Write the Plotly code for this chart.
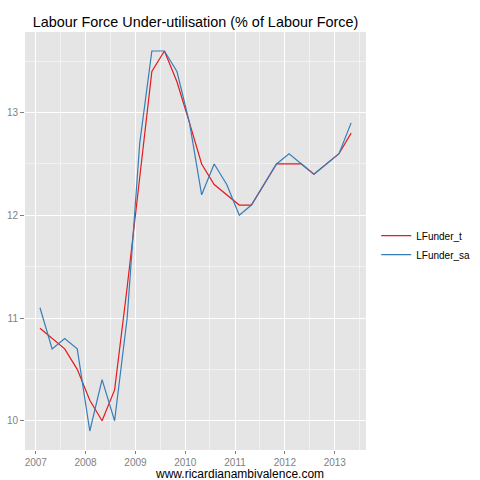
import plotly.graph_objects as go

quarters = [
    "2007-02-01", "2007-05-01", "2007-08-01", "2007-11-01",
    "2008-02-01", "2008-05-01", "2008-08-01", "2008-11-01",
    "2009-02-01", "2009-05-01", "2009-08-01", "2009-11-01",
    "2010-02-01", "2010-05-01", "2010-08-01", "2010-11-01",
    "2011-02-01", "2011-05-01", "2011-08-01", "2011-11-01",
    "2012-02-01", "2012-05-01", "2012-08-01", "2012-11-01",
    "2013-02-01", "2013-05-01",
]
lfunder_t = [
    10.9, 10.8, 10.7, 10.5, 10.2, 10.0, 10.3, 11.3, 12.4, 13.4,
    13.6, 13.3, 12.9, 12.5, 12.3, 12.2, 12.1, 12.1, 12.3, 12.5,
    12.5, 12.5, 12.4, 12.5, 12.6, 12.8,
]
lfunder_sa = [
    11.1, 10.7, 10.8, 10.7, 9.9, 10.4, 10.0, 11.0, 12.7, 13.6,
    13.6, 13.4, 12.9, 12.2, 12.5, 12.3, 12.0, 12.1, 12.3, 12.5,
    12.6, 12.5, 12.4, 12.5, 12.6, 12.9,
]
year_ticks = ["2007", "2008", "2009", "2010", "2011", "2012", "2013"]

FONT = "Liberation Sans, Arial, Helvetica, sans-serif"

fig = go.Figure()
fig.add_trace(go.Scatter(x=quarters, y=lfunder_t, mode="lines", name="LFunder_t",
                         line=dict(color="#E41A1C", width=1.2)))
fig.add_trace(go.Scatter(x=quarters, y=lfunder_sa, mode="lines", name="LFunder_sa",
                         line=dict(color="#377EB8", width=1.2)))

fig.update_layout(
    width=480,
    height=480,
    paper_bgcolor="white",
    plot_bgcolor="#E5E5E5",
    margin=dict(l=25, r=114, t=32, b=30, autoexpand=False),
    font=dict(family=FONT, color="#000000"),
    title=dict(text="Labour Force Under-utilisation (% of Labour Force)",
               x=0.5, xref="paper", xanchor="center",
               y=1 - 22 / 480, yref="container", yanchor="middle",
               font=dict(size=14.4, color="black")),
    legend=dict(x=1.03, xanchor="left", y=0.49, yanchor="middle",
                font=dict(size=10, color="black"), bgcolor="rgba(0,0,0,0)",
                tracegroupgap=4),
    annotations=[dict(text="www.ricardianambivalence.com", xref="paper", yref="paper",
                      x=0.628, y=-0.057, xanchor="center", yanchor="middle",
                      showarrow=False, font=dict(size=12, color="black"))],
)

fig.update_xaxes(
    type="date",
    automargin=False,
    range=["2006-10-14", "2013-08-18"],
    tickvals=[f"{y}-01-01" for y in year_ticks],
    ticktext=year_ticks,
    showgrid=True, gridcolor="white", gridwidth=1.1,
    minor=dict(tickvals=[f"{y}-07-01" for y in year_ticks],
               showgrid=True, gridcolor="#F2F2F2", gridwidth=0.6),
    ticks="outside", ticklen=3, tickcolor="#7F7F7F",
    tickfont=dict(size=10, color="#7F7F7F"),
    zeroline=False, showline=False,
)
fig.update_yaxes(
    automargin=False,
    range=[9.715, 13.785],
    tickvals=[10, 11, 12, 13],
    showgrid=True, gridcolor="white", gridwidth=1.1,
    minor=dict(tickvals=[10.5, 11.5, 12.5, 13.5],
               showgrid=True, gridcolor="#F2F2F2", gridwidth=0.6),
    ticks="outside", ticklen=4, tickcolor="#7F7F7F",
    tickfont=dict(size=10, color="#7F7F7F"),
    zeroline=False, showline=False,
)

fig.write_html("out.html", config={"displayModeBar": False},
               post_script="document.body.style.margin='0';")
